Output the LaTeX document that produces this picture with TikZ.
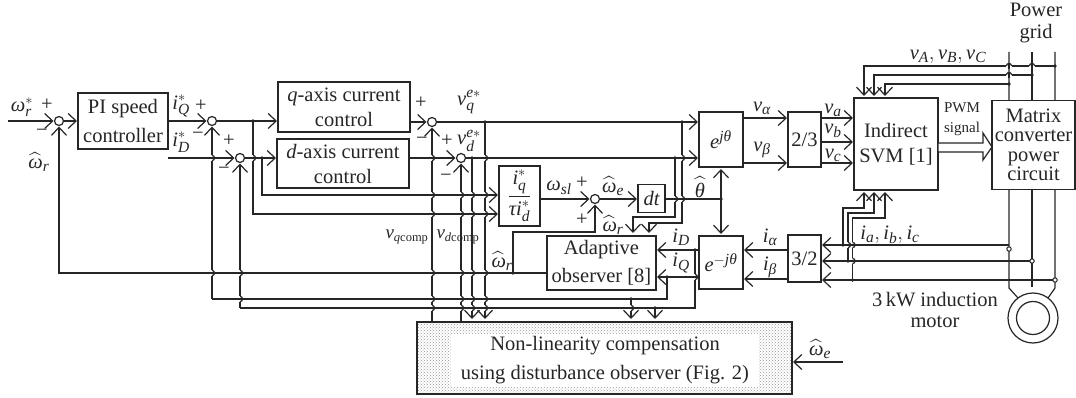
\documentclass[tikz,border=0pt]{standalone}
\usepackage{amsmath}
\usepackage{fontspec}
\setmainfont{Liberation Serif}
\usetikzlibrary{arrows.meta,patterns}
\DeclareMathSizes{20.5}{20.5}{15.5}{12}
\DeclareMathSizes{19}{19}{12.5}{10}
\newcommand\ti[1]{\text{\itshape #1}}
\newcommand\wh[1]{\widehat{\ti{#1}}}
\newcommand\hopv[2]{%
  \fill[white] (#1-1,#2-2.6) rectangle (#1+1,#2+2.6);
  \draw[wire] (#1-3,#2)--(#1+3,#2);
  \draw[wire] (#1,#2-2.6) arc (90:-90:2.6pt);}
\newcommand\hoph[2]{%
  \fill[white] (#1-2.6,#2-1) rectangle (#1+2.6,#2+1);
  \draw[wire] (#1,#2-3)--(#1,#2+3);
  \draw[wire] (#1-2.6,#2) arc (180:0:2.6pt);}
\tikzset{
  x=1pt,y=-1pt,
  every node/.style={font=\fontsize{20.5}{25}\selectfont,inner sep=0pt,outer sep=0pt,text=black!85},
  wire/.style={line width=1.2pt,draw=black!85},
  arr/.style={wire,-{Straight Barb[length=8pt,width=15pt,line width=1.2pt]},shorten >=1pt},
  arrb/.style={wire,{Straight Barb[length=8pt,width=15pt,line width=1.2pt]}-{Straight Barb[length=8pt,width=15pt,line width=1.2pt]}},
  blk/.style={draw=black!85,line width=1.2pt,align=center,fill=white},
  sumn/.style={circle,draw=black!85,line width=1.2pt,fill=white,minimum size=9pt},
  dotn/.style={circle,fill=black!85,minimum size=3.6pt},
  tapn/.style={circle,draw=black!85,line width=1pt,fill=white,minimum size=4.4pt},
  small/.style={font=\fontsize{15}{21}\selectfont},
  compl/.style={font=\fontsize{19}{21}\selectfont},
}
\begin{document}
\begin{tikzpicture}
\useasboundingbox (0,0) rectangle (1076,398);
% blocks
\node[blk,minimum width=90pt,minimum height=56pt,font=\fontsize{20.5}{29}\selectfont] (pi) at (123,121) {PI speed\\controller};
\node[blk,minimum width=132pt,minimum height=50pt] (qc) at (344,107) {\ti{q}-axis current\\control};
\node[blk,minimum width=132pt,minimum height=49pt] (dc) at (343,163.5) {\ti{d}-axis current\\control};
\node[blk,minimum width=41pt,minimum height=60pt] (frac) at (519.5,196) {$\dfrac{\ti{i}_{\ti{q}}^{\ast}}{\ti{τ}\ti{i}_{\ti{d}}^{\ast}}$};
\node[blk,minimum width=27pt,minimum height=28pt] (dt) at (651.5,198.5) {\ti{dt}};
\node[blk,minimum width=109pt,minimum height=54pt,font=\fontsize{20.5}{28}\selectfont] (obs) at (601.5,263) {Adaptive\\observer [8]};
\node[blk,minimum width=44pt,minimum height=55pt] (ej) at (721,139.5) {$\ti{e}^{\ti{jθ}}$};
\node[blk,minimum width=44pt,minimum height=53pt] (emj) at (721,262.5) {$\ti{e}^{-\ti{jθ}}$};
\node[blk,minimum width=33pt,minimum height=55pt] (bt) at (804.5,139.5) {2/3};
\node[blk,minimum width=33pt,minimum height=47pt] (bu) at (804.5,258.5) {3/2};
\node[blk,minimum width=84pt,minimum height=92pt] (svm) at (896,144) {Indirect\\SVM [1]};
\node[draw=black!85,line width=1.2pt,pattern=crosshatch dots,pattern color=black!40,minimum width=375pt,minimum height=72pt] (comp) at (604.5,358) {};
\node[fill=white,minimum width=308pt,minimum height=53pt,align=center,font=\fontsize{20.5}{29}\selectfont] (compt) at (605,360.5) {Non-linearity compensation\\using disturbance observer (Fig. 2)};
% summing junctions
\node[sumn] (s1) at (59,121) {};
\node[sumn] (s2) at (212,121) {};
\node[sumn] (s3) at (240,158) {};
\node[sumn] (s4) at (432,122) {};
\node[sumn] (s5) at (461,158) {};
\node[sumn] (s6) at (595,199) {};
% free ends and junctions
\coordinate (in) at (8,121);
\coordinate (jq) at (253,121);
\coordinate (jd) at (262,158);
\coordinate (jvq) at (485,122);
\coordinate (jvd) at (472,158);
\coordinate (ja) at (682,122);
\coordinate (jb) at (675,158);
\coordinate (jth) at (721,199);
\coordinate (jobs) at (513,273);
\coordinate (jiq) at (667,277);
\coordinate (jid) at (695,250);
\coordinate (jiqc) at (631,299);
\coordinate (jidc) at (655,308);
% forward path
\draw[arr] (in) -- (s1.west);
\draw[arr] (s1.east) -- (pi.west);
\draw[arr] (pi.east |- s2) -- (s2.west);
\draw[arr] (s2.east) -- (qc.west |- s2);
\draw[arr] (pi.east |- s3) -- (s3.west);
\draw[arr] (s3.east) -- (dc.west |- s3);
\draw[arr] (qc.east |- s4) -- (s4.west);
\draw[arr] (dc.east |- s5) -- (s5.west);
\draw[arr] (s4.east) -- (ej.west |- s4);
\draw[arr] (s5.east) -- (ej.west |- s5);
\draw[arr] (jd) |- (frac.west |- 0,195);
\draw[arr] (jq) |- (frac.west |- 0,214);
\draw[arr] (frac.east |- s6) -- (s6.west);
\draw[arr] (s6.east) -- (dt.west |- s6);
\draw[wire] (dt.east |- jth) -- (jth);
\draw[arrb] (ej.south |- 0,169) -- (emj.north |- 0,234);
% feedback
\draw[arr] (obs.west |- jobs) -| (s1.south);
\draw[arr] (jobs) |- (595,232) -- (s6.south);
\draw[wire] (jid) -- (695,308) -- (s3.south |- jidc);
\draw[arr] (s3.south |- jidc) -- (s3.south);
\draw[wire] (jiq) -- (667,299) -- (s2.south |- jiqc);
\draw[arr] (s2.south |- jiqc) -- (s2.south);
\draw[arr] (emj.west |- jid) -- (obs.east |- jid);
\draw[arr] (emj.west |- jiq) -- (obs.east |- jiq);
\draw[arr] (jb) -- (675,217) -| (633,234);
\draw[arr] (ja) -- (682,223) -| (649,234);
\draw[arr] (jiqc) -- (631,320);
\draw[arr] (jidc) -- (655,320);
\draw[arr] (s4.south |- comp.north) -- (s4.south);
\draw[arr] (s5.south |- comp.north) -- (s5.south);
\draw[arr] (jvd) -- (472,320);
\draw[arr] (jvq) -- (485,320);
% right part
\draw[arr] (ej.east |- 0,118) -- (bt.west |- 0,118);
\draw[arr] (ej.east |- 0,163) -- (bt.west |- 0,163);
\draw[arr] (bt.east |- 0,118) -- (svm.west |- 0,118);
\draw[arr] (bt.east |- 0,142) -- (svm.west |- 0,142);
\draw[arr] (bt.east |- 0,163) -- (svm.west |- 0,163);
\draw[arr] (bu.west |- 0,250) -- (emj.east |- 0,250);
\draw[arr] (bu.west |- 0,279) -- (emj.east |- 0,279);
\coordinate (ga) at (1009,52);
\coordinate (gb) at (1032,52);
\coordinate (gc) at (1055,52);
\coordinate (ma) at (1009,288);
\coordinate (mb) at (1032,287);
\coordinate (mc2) at (1055,288);
\draw[wire] (ga) -- (ma) -- (1018,298);
\draw[wire] (gb) -- (mb);
\draw[wire] (gc) -- (mc2) -- (1048,298);
\node[blk,minimum width=83pt,minimum height=89pt,font=\fontsize{20.5}{19.5}\selectfont] (mc) at (1033.5,145) {Matrix\\converter\\power\\circuit};
\draw[arr] (1055,66) -| (864,97);
\draw[arr] (1032,75) -| (874,97);
\draw[arr] (1009,84) -| (885,97);
\draw[arr] (843,245) |- (864,208) -- (864,191);
\draw[arr] (848,261) |- (874,213) -- (874,191);
\draw[arr] (852.5,280) |- (885,218) -- (885,191);
\draw[arr] (1009,245) -- (bu.east |- 0,245);
\draw[arr] (1032,261) -- (bu.east |- 0,261);
\draw[arr] (1055,280) -- (bu.east |- 0,280);
\draw[arr] (843,362) -- (comp.east |- 0,362);
% PWM double arrow
\draw[wire,fill=white] (svm.east |- 0,143) -- (983,143) -- (983,133) -- (992,147) -- (983,160) -- (983,152) -- (svm.east |- 0,152) -- cycle;
% motor
\node[circle,draw=black!85,line width=1.2pt,fill=white,minimum size=50pt] (mot) at (1033,318) {};
\node[circle,draw=black!85,line width=1.2pt,fill=white,minimum size=33pt] (rot) at (1033,318) {};
% hops
\foreach \a/\b in {212/158,253/158,212/273,240/273,240/299,432/158,485/158,
  432/195,432/214,461/195,461/214,472/195,472/214,485/195,485/214,
  432/273,461/273,472/273,485/273,432/299,461/299,472/299,485/299,
  432/308,461/308,472/308,485/308,675/199,682/199,682/158,695/277,631/308,
  848/245,852.5/245,852.5/261}{\hopv{\a}{\b}}
\foreach \a/\b in {1009/66,1032/66,1009/75}{\hoph{\a}{\b}}
% dots
\foreach \n/\p in {d1/jq,d2/jd,d3/jvq,d4/jvd,d5/ja,d6/jb,d7/jth,d8/jobs,d9/jiq,d10/jid,d11/jiqc,d12/jidc}{\node[dotn] (\n) at (\p) {};}
\node[dotn] (d13) at (1055,66) {};
\node[dotn] (d14) at (1032,75) {};
\node[dotn] (d15) at (1009,84) {};
\node[dotn] (d16) at (843,245) {};
\node[dotn] (d17) at (848,261) {};
\node[dotn] (d18) at (852.5,280) {};
\node[tapn] (t1) at (1009,249) {};
\node[tapn] (t2) at (1032,261) {};
\node[tapn] (t3) at (1055,280) {};
% labels
\node (l1) at (22,107) {$\ti{ω}_{\ti{r}}^{\ast}$};
\node (l2) at (47,105) {+};
\node (l3) at (42,133) {−};
\node (l4) at (39,162) {$\wh{ω}_{\ti{r}}$};
\node (l5) at (181,106) {$\ti{i}_{\ti{Q}}^{\ast}$};
\node (l6) at (201,106) {+};
\node (l7) at (181,142) {$\ti{i}_{\ti{D}}^{\ast}$};
\node (l8) at (198,136) {−};
\node (l9) at (229,141) {+};
\node (l10) at (224,171) {−};
\node (l11) at (421,103) {+};
\node (l12) at (422,141) {−};
\node (l13) at (447,141) {+};
\node (l14) at (469,102) {$\ti{v}_{\ti{q}}^{\ti{e}\ast}$};
\node (l15) at (469,141) {$\ti{v}_{\ti{d}}^{\ti{e}\ast}$};
\node (l16) at (446,178) {−};
\node (l17) at (559,188) {$\ti{ω}_{\ti{sl}}$};
\node (l18) at (582,183) {+};
\node (l19) at (613,186) {$\wh{ω}_{\ti{e}}$};
\node (l20) at (582,220) {+};
\node (l21) at (613,225) {$\wh{ω}_{\ti{r}}$};
\node (l22) at (700,187) {$\wh{θ}$};
\node[compl] (l23) at (407,237) {$\ti{v}_{\ti{q}\text{comp}}$};
\node[compl] (l24) at (458,237) {$\ti{v}_{\ti{d}\text{comp}}$};
\node (l25) at (502,261) {$\wh{ω}_{\ti{r}}$};
\node (l26) at (681,237) {$\ti{i}_{\ti{D}}$};
\node (l27) at (681,263) {$\ti{i}_{\ti{Q}}$};
\node (l28) at (770,237) {$\ti{i}_{\ti{α}}$};
\node (l29) at (770,267) {$\ti{i}_{\ti{β}}$};
\node (l30) at (762,108) {$\ti{v}_{\ti{α}}$};
\node (l31) at (762,150) {$\ti{v}_{\ti{β}}$};
\node (l32) at (833,110) {$\ti{v}_{\ti{a}}$};
\node (l33) at (833,131) {$\ti{v}_{\ti{b}}$};
\node (l34) at (833,155) {$\ti{v}_{\ti{c}}$};
\node[small] (l35) at (962,108) {PWM};
\node[small] (l36) at (962,129) {signal};
\node (l37) at (948,57) {$\ti{v}_{\ti{A}},\ti{v}_{\ti{B}},\ti{v}_{\ti{C}}$};
\node (l38) at (890,235) {$\ti{i}_{\ti{a}},\ti{i}_{\ti{b}},\ti{i}_{\ti{c}}$};
\node[align=center,font=\fontsize{20.5}{22}\selectfont] (l39) at (1036,23) {Power\\grid};
\node[align=center,font=\fontsize{20.5}{20.5}\selectfont] (l40) at (935,310) {3\,kW induction\\motor};
\node (l41) at (820,349) {$\wh{ω}_{\ti{e}}$};
\end{tikzpicture}
\end{document}
